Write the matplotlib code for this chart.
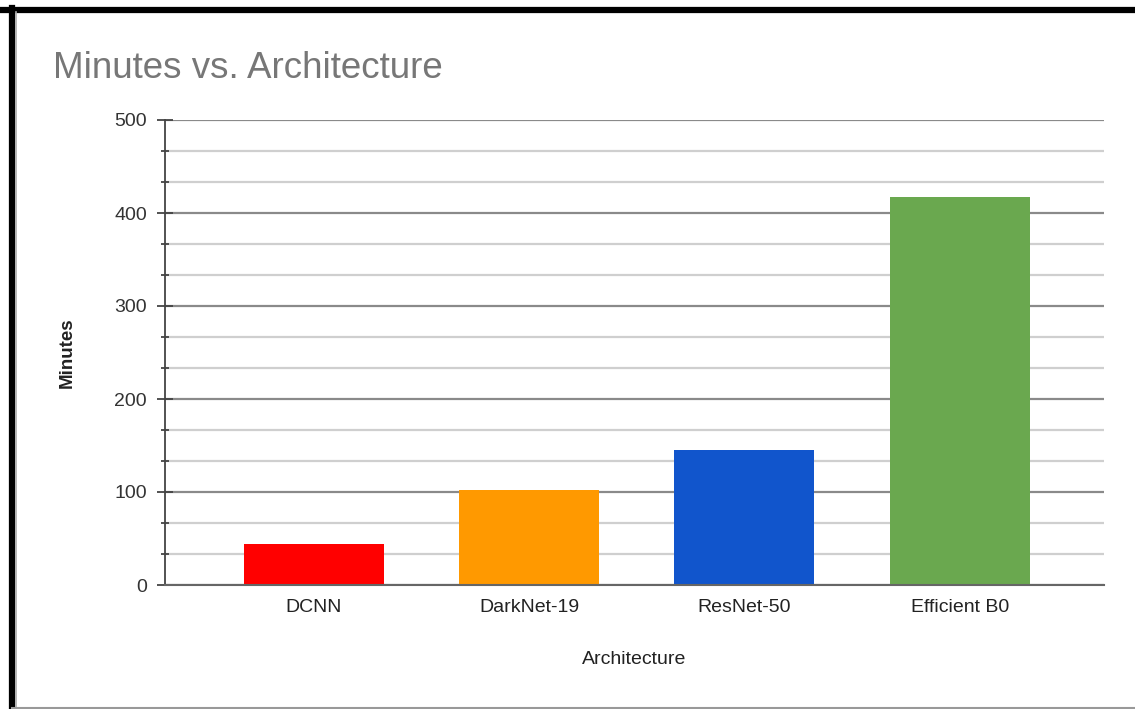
import matplotlib
matplotlib.use("Agg")
import matplotlib.pyplot as plt
from matplotlib.lines import Line2D
from matplotlib.ticker import MultipleLocator

categories = ["DCNN", "DarkNet-19", "ResNet-50", "Efficient B0"]
minutes = [44, 102, 145, 417]
colors = ["#ff0000", "#ff9900", "#1155cc", "#6aa84f"]
y_ticks = [0, 100, 200, 300, 400, 500]

plt.rcParams['font.family'] = ['Liberation Sans', 'DejaVu Sans']

W, H = 1135, 709
fig = plt.figure(figsize=(W / 100, H / 100), dpi=100)
fig.patch.set_facecolor("white")

ax = fig.add_axes([165 / W, 1 - 585 / H, (1104 - 165) / W, (585 - 120) / H])
x = list(range(len(categories)))
ax.bar(x, minutes, width=0.65, color=colors, zorder=3)

ax.set_xlim(-0.69, 3.67)
ax.set_ylim(0, 500)
ax.set_yticks(y_ticks)
ax.yaxis.set_minor_locator(MultipleLocator(100 / 3))
ax.set_xticks(x)
ax.set_xticklabels(categories, fontsize=14, color="#222222")
ax.tick_params(axis="x", length=0, pad=10)
ax.tick_params(axis="y", which="major", direction="inout", length=12, width=1.3,
               color="#444444", labelsize=14, labelcolor="#333333", pad=7)
ax.tick_params(axis="y", which="minor", direction="inout", length=6, width=1.3,
               color="#444444")

ax.grid(axis="y", which="major", color="#8a8a8a", linewidth=1.6, zorder=0)
ax.grid(axis="y", which="minor", color="#cfcfcf", linewidth=1.6, zorder=0)

for s in ["top", "right"]:
    ax.spines[s].set_visible(False)
ax.spines["left"].set_color("#444444")
ax.spines["left"].set_linewidth(1.3)
ax.spines["bottom"].set_color("#666666")
ax.spines["bottom"].set_linewidth(1.5)
ax.spines["bottom"].set_zorder(4)

ax.set_xlabel("Architecture", fontsize=14, color="#222222", labelpad=25)
ax.set_ylabel("Minutes", fontsize=13.5, color="#222222", labelpad=28, fontweight="bold")

fig.text(53 / W, 1 - 68 / H, "Minutes vs. Architecture", fontsize=26.5,
         color="#777777", va="center", ha="left")

# outer frame
fig.add_artist(Line2D([0, 1], [1 - 10 / H, 1 - 10 / H], transform=fig.transFigure,
                      color="black", linewidth=4.5))
fig.add_artist(Line2D([12 / W, 12 / W], [0, 1 - 8 / H], transform=fig.transFigure,
                      color="black", linewidth=4.5))
fig.add_artist(Line2D([15.5 / W, 15.5 / W], [0, 1 - 12 / H], transform=fig.transFigure,
                      color="#aaaaaa", linewidth=1.2))
fig.add_artist(Line2D([12 / W, 1], [1 - 707.5 / H, 1 - 707.5 / H], transform=fig.transFigure,
                      color="#999999", linewidth=1.5))

fig.savefig("out.png", dpi=100)
